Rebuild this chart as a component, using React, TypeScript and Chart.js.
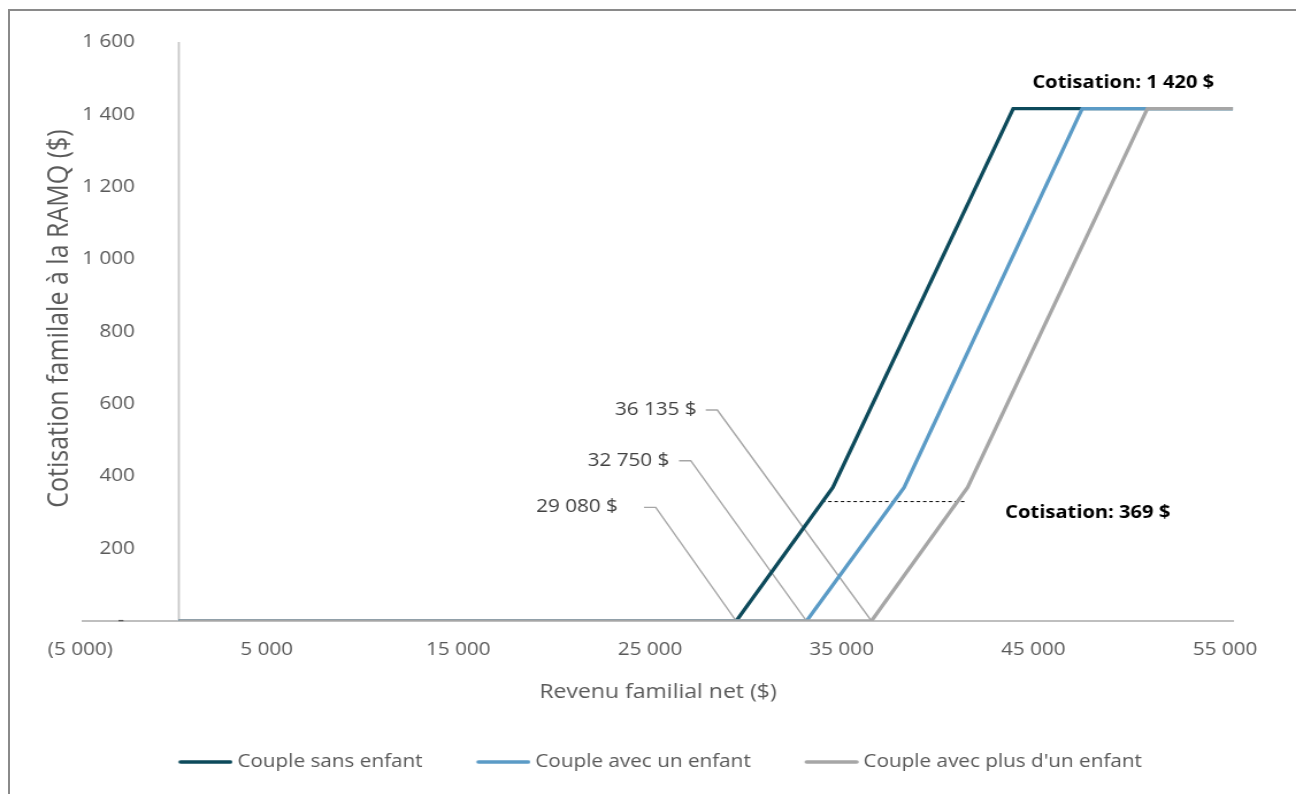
import React, { useEffect, useRef } from 'react';
import { Chart, registerables } from 'chart.js';

Chart.register(...registerables);

// ---------- data ----------
const seriesNames = ['Couple sans enfant', 'Couple avec un enfant', "Couple avec plus d'un enfant"];
const seriesColors = ['#0D4A5B', '#5B9BC6', '#A6A6A6'];

const revenuSansEnfant = [0, 29080, 34120, 43530, 55000];
const cotisationSansEnfant = [0, 0, 369, 1416, 1416];
const revenuUnEnfant = [0, 32750, 37840, 47130, 55000];
const cotisationUnEnfant = [0, 0, 369, 1416, 1416];
const revenuPlusUnEnfant = [0, 36135, 41150, 50530, 55000];
const cotisationPlusUnEnfant = [0, 0, 369, 1416, 1416];

const xTickValues = [-5000, 5000, 15000, 25000, 35000, 45000, 55000];
const xMin = -5000;
const xMax = 55000;
const yMin = 0;
const yMax = 1600;
const yStep = 200;
const yAxisCrossAt = 0;

const xTitle = 'Revenu familial net ($)';
const yTitle = 'Cotisation familale à la RAMQ ($)';

// threshold call-outs (leader lines)
const seuilLabels = ['29 080 $', '32 750 $', '36 135 $'];
const seuilValues = [29080, 32750, 36135];
const leaderStartX = [24268, 26095, 27489];
const leaderBendX = [24879, 26706, 28094];
const leaderY = [314, 443, 583];
const seuilLabelX = [22911, 25589, 27019];

// bold notes
const noteTexts = ['Cotisation: 1 420 $', 'Cotisation: 369 $'];
const noteX = [49272, 47420];
const noteY = [1486, 298];

// dashed reference line
const dashedX = [33545, 41024];
const dashedY = [330, 330];

// ---------- helpers ----------
const S = 1.15; // horizontal stretch of the whole picture
const W = 1296;
const H = 794;
const IW = W / S;
const PAD_LEFT = 37;
const AREA_LEFT = 83 / S;
const LABEL_RIGHT = 135 / S;
const TICK_FONT = 18;

const fmt = (v: number) => {
  const s = Math.abs(v).toString().replace(/\B(?=(\d{3})+(?!\d))/g, ' ');
  return v < 0 ? `(${s})` : s;
};
const zip = (xs: number[], ys: number[]) => xs.map((x, i) => ({ x, y: ys[i] }));

// legend line sample as an image (line drawn toward the text)
const makeLegendLine = (color: string) => {
  const c = document.createElement('canvas');
  c.width = 56;
  c.height = 6;
  const g = c.getContext('2d') as CanvasRenderingContext2D;
  g.strokeStyle = color;
  g.lineWidth = 3.6;
  g.lineCap = 'round';
  g.beginPath();
  g.moveTo(10.5, 3);
  g.lineTo(54, 3);
  g.stroke();
  return c;
};

const annotationPlugin = {
  id: 'annotations',
  beforeDatasetsDraw(chart: any) {
    const { ctx, scales, chartArea } = chart;
    const x0 = scales.x.getPixelForValue(yAxisCrossAt);
    ctx.save();
    ctx.strokeStyle = '#C8C8C8';
    ctx.lineWidth = 1.8;
    ctx.beginPath();
    ctx.moveTo(x0, scales.y.getPixelForValue(yMax));
    ctx.lineTo(x0, chartArea.bottom);
    ctx.stroke();
    ctx.restore();
  },
  afterDatasetsDraw(chart: any) {
    const { ctx, scales } = chart;
    const xs = scales.x;
    const ys = scales.y;
    ctx.save();
    ctx.font = "18px 'Open Sans', sans-serif";
    ctx.fillStyle = '#404040';
    ctx.textAlign = 'right';
    ctx.textBaseline = 'middle';
    seuilLabels.forEach((t, i) => {
      ctx.fillText(t, xs.getPixelForValue(seuilLabelX[i]), ys.getPixelForValue(leaderY[i]));
    });
    ctx.font = "bold 17.5px 'Open Sans', sans-serif";
    ctx.fillStyle = '#000000';
    ctx.textAlign = 'center';
    noteTexts.forEach((t, i) => {
      ctx.fillText(t, xs.getPixelForValue(noteX[i]), ys.getPixelForValue(noteY[i]));
    });
    ctx.restore();
  },
};

export default function App() {
  const canvasRef = useRef<HTMLCanvasElement | null>(null);

  useEffect(() => {
    if (!canvasRef.current) return;
    Chart.defaults.font.family = "'Open Sans', sans-serif";

    const mctx = document.createElement('canvas').getContext('2d') as CanvasRenderingContext2D;
    mctx.font = `${TICK_FONT}px 'Open Sans', sans-serif`;
    const widest = mctx.measureText(fmt(yMax)).width;

    const legendImages = seriesColors.map(makeLegendLine);

    const seriesX = [revenuSansEnfant, revenuUnEnfant, revenuPlusUnEnfant];
    const seriesY = [cotisationSansEnfant, cotisationUnEnfant, cotisationPlusUnEnfant];

    const datasets: any[] = seriesNames.map((name, i) => ({
      label: name,
      data: zip(seriesX[i], seriesY[i]),
      borderColor: seriesColors[i],
      backgroundColor: seriesColors[i],
      borderWidth: 3.3,
      pointRadius: 0,
      tension: 0,
      order: 2 - i,
    }));

    seuilValues.forEach((v, i) => {
      datasets.push({
        label: 'leader' + i,
        data: zip([leaderStartX[i], leaderBendX[i], v], [leaderY[i], leaderY[i], 0]),
        borderColor: '#A6A6A6',
        borderWidth: 1.4,
        pointRadius: 0,
        tension: 0,
        order: 10,
      });
    });

    datasets.push({
      label: 'dashed',
      data: zip(dashedX, dashedY),
      borderColor: '#000000',
      borderWidth: 1,
      borderDash: [3, 2.5],
      pointRadius: 0,
      order: 5,
    });

    const chart = new Chart(canvasRef.current, {
      type: 'line',
      data: { datasets },
      plugins: [annotationPlugin],
      options: {
        animation: false,
        responsive: true,
        maintainAspectRatio: false,
        events: [],
        layout: { padding: { left: PAD_LEFT, right: IW - 1233 / S, top: 42, bottom: 13 } },
        plugins: {
          tooltip: { enabled: false },
          legend: {
            position: 'bottom',
            fullSize: false,
            labels: {
              usePointStyle: true,
              pointStyleWidth: 46,
              boxWidth: 46,
              boxHeight: 6,
              padding: 43,
              color: '#595959',
              font: { size: 18 },
              sort: (a: any, b: any) => a.datasetIndex - b.datasetIndex,
              generateLabels: (c: any) =>
                (Chart.defaults.plugins.legend.labels as any)
                  .generateLabels(c)
                  .filter((it: any) => it.datasetIndex < seriesNames.length)
                  .map((it: any) => ({
                    ...it,
                    lineWidth: 0,
                    fillStyle: it.strokeStyle,
                    pointStyle: legendImages[it.datasetIndex],
                    rotation: 0,
                  })),
            },
          },
        },
        scales: {
          x: {
            type: 'linear',
            min: xMin,
            max: xMax,
            afterBuildTicks: (s: any) => {
              s.ticks = xTickValues.map((v) => ({ value: v }));
            },
            afterFit: (s: any) => {
              s.height = 89;
            },
            grid: { display: false, drawTicks: false },
            border: { display: true, color: '#BFBFBF', width: 2 },
            ticks: {
              color: '#595959',
              font: { size: TICK_FONT },
              padding: 18,
              labelOffset: -7,
              maxRotation: 0,
              autoSkip: false,
              callback: (v: any) => (v < 0 ? '\u00a0\u00a0' + fmt(v) : fmt(v)),
            },
            title: {
              display: true,
              text: xTitle,
              color: '#595959',
              font: { size: 20 },
              padding: { top: 0, bottom: 6 },
            },
          },
          y: {
            min: yMin,
            max: yMax,
            afterFit: (s: any) => {
              s.width = AREA_LEFT - PAD_LEFT;
            },
            grid: { display: false, drawTicks: false },
            border: { display: false },
            ticks: {
              stepSize: yStep,
              color: '#595959',
              font: { size: TICK_FONT },
              mirror: true,
              crossAlign: 'far',
              padding: LABEL_RIGHT - AREA_LEFT - widest,
              callback: (v: any) => (v === 0 ? '-\u00a0\u00a0' : fmt(v)),
            },
            title: {
              display: true,
              text: '\u00a0\u00a0\u00a0\u00a0' + yTitle,
              color: '#595959',
              font: { size: 25 },
              padding: 0,
            },
          },
        },
      } as any,
    });
    return () => chart.destroy();
  }, []);

  return (
    <div style={{ position: 'relative', width: W, height: H, overflow: 'hidden', background: '#fff' }}>
      <style>{'body{margin:0;}'}</style>
      <div
        style={{
          position: 'absolute',
          left: 8,
          top: 9,
          width: W + 100,
          height: H + 100,
          borderLeft: '2px solid #8A8A8A',
          borderTop: '2px solid #8A8A8A',
        }}
      />
      <div
        style={{
          position: 'absolute',
          left: 0,
          top: 0,
          width: IW,
          height: H,
          transform: `scaleX(${S})`,
          transformOrigin: '0 0',
        }}
      >
        <canvas ref={canvasRef} />
      </div>
    </div>
  );
}
